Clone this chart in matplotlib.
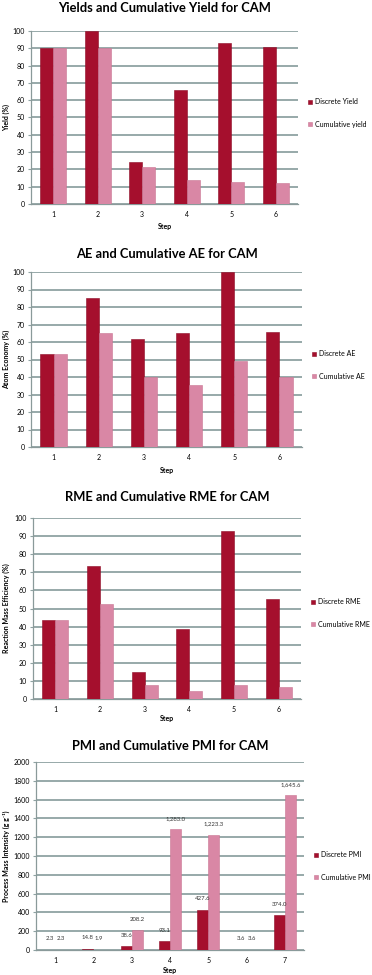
import numpy as np
import matplotlib.pyplot as plt

plt.rcParams['font.family'] = ['Lato', 'DejaVu Sans']

DARK = '#A50F2D'
PINK = '#D987A5'
GRID = '#8FA3A3'
W, H = 372, 975

steps6 = ['1', '2', '3', '4', '5', '6']
steps7 = ['1', '2', '3', '4', '5', '6', '7']

yield_discrete = [90, 100, 24, 66, 93, 91]
yield_cumulative = [90, 90, 21.5, 14, 13, 12]

ae_discrete = [53, 85, 62, 65, 100, 66]
ae_cumulative = [53, 65, 40, 35.5, 49, 40]

rme_discrete = [43.5, 73.5, 15, 38.5, 93, 55.5]
rme_cumulative = [43.5, 52.5, 7.5, 4.5, 7.5, 6.5]

pmi_discrete = [2.3, 14.8, 38.6, 93.1, 427.6, 3.6, 374.0]
pmi_cumulative = [2.3, 1.9, 208.2, 1283.0, 1223.3, 3.6, 1645.6]

# (title, ylabel, legend labels, cats, discrete, cumulative, ymax, ystep,
#  axes box px (left, top, right, bottom), title y, step y, legend y)
panels = [
    ('Yields and Cumulative Yield for CAM', 'Yield (%)',
     ['Discrete Yield', 'Cumulative yield'], steps6, yield_discrete, yield_cumulative,
     100, 10, (31, 31, 298, 204), 8, 226, 113),
    ('AE and Cumulative AE for CAM', 'Atom Economy (%)',
     ['Discrete AE', 'Cumulative AE'], steps6, ae_discrete, ae_cumulative,
     100, 10, (31, 272, 302, 447), 254, 470, 365),
    ('RME and Cumulative RME for CAM', 'Reaction Mass Efficiency (%)',
     ['Discrete RME', 'Cumulative RME'], steps6, rme_discrete, rme_cumulative,
     100, 10, (33, 518, 301, 699), 497, 718, 613),
    ('PMI and Cumulative PMI for CAM', 'Process Mass Intensity (g g\u207b\u00b9)',
     ['Discrete PMI', 'Cumulative PMI'], steps7, pmi_discrete, pmi_cumulative,
     2000, 200, (36, 762, 304, 950), 746, 970, 866),
]

fig = plt.figure(figsize=(W / 100, H / 100), dpi=100)

for i, (title, ylab, labs, cats, disc, cum, ymax, ystep, box, ty, sy, ly) in enumerate(panels):
    l, t, r, b = box
    ax = fig.add_axes([l / W, 1 - b / H, (r - l) / W, (b - t) / H])
    x = np.arange(len(cats))
    bw = 0.29
    b1 = ax.bar(x - bw / 2, disc, bw, color=DARK, edgecolor='#8E0C26', linewidth=0.4,
                label=labs[0], zorder=3)
    b2 = ax.bar(x + bw / 2, cum, bw, color=PINK, edgecolor='#C97593', linewidth=0.4,
                label=labs[1], zorder=3)
    ax.set_xlim(-0.5, len(cats) - 0.5)
    ax.set_ylim(0, ymax)
    ax.set_yticks(np.arange(0, ymax + 1, ystep))
    ax.set_xticks(x, cats)
    ax.yaxis.grid(True, color=GRID, linewidth=1.3, zorder=0)
    ax.set_axisbelow(True)
    for s in ['top', 'right']:
        ax.spines[s].set_visible(False)
    for s in ['left', 'bottom']:
        ax.spines[s].set_color('#8A9A9A')
        ax.spines[s].set_linewidth(0.9)
    ax.tick_params(axis='both', labelsize=5, length=2.5, width=0.8, color=GRID, pad=2)
    ax.tick_params(axis='x', length=0, pad=5)
    ax.set_ylabel(ylab, fontsize=5, fontweight='bold', family=['Lato', 'DejaVu Sans'])
    ax.yaxis.set_label_coords(-(l - 10) / (r - l), 0.5)
    fig.text((l + r) / 2 / W, 1 - ty / H, title, fontsize=9.3, fontweight='bold',
             ha='center', va='center')
    fig.text((l + r) / 2 / W, 1 - sy / H, 'Step', fontsize=5, fontweight='bold',
             ha='center', va='center')
    ax.legend(loc='center left', bbox_to_anchor=((r + 7) / W, 1 - ly / H),
              bbox_transform=fig.transFigure, frameon=False, fontsize=5,
              handlelength=0.6, handleheight=0.6, handletextpad=0.4,
              labelspacing=2.2, borderaxespad=0)
    if i == 3:
        for rect, v in list(zip(b1, disc)) + list(zip(b2, cum)):
            ax.annotate(f'{v:,.1f}', (rect.get_x() + rect.get_width() / 2, rect.get_height()),
                        xytext=(0, 6), textcoords='offset points', ha='center',
                        va='bottom', fontsize=4.3, color='#333333')

fig.savefig('out.png', dpi=100)
